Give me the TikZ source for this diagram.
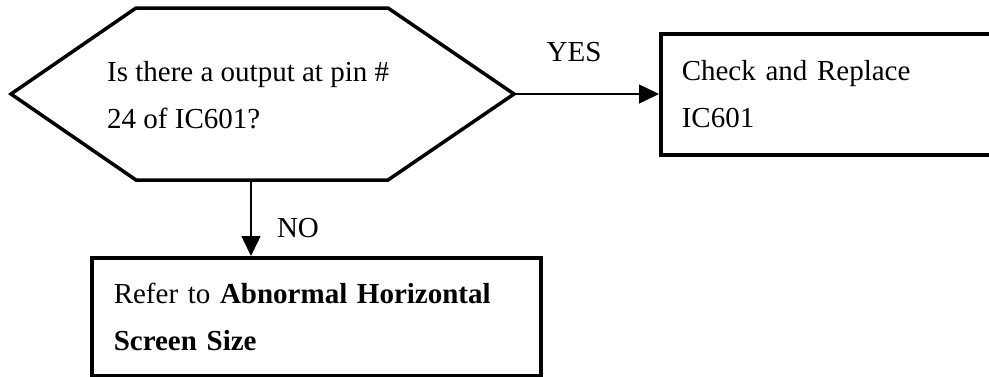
\documentclass[tikz,border=0pt]{standalone}
\usepackage{fontspec}
\setmainfont{Liberation Serif}
\usepackage{tikz}
\usetikzlibrary{arrows.meta}
\usetikzlibrary{positioning}

\begin{document}
\begin{tikzpicture}[x=1pt,y=-1pt,every node/.style={font=\fontsize{29}{47}\selectfont},
  outline/.style={line width=3.5pt,line join=miter},
  stepbox/.style={draw,outline,anchor=north west,align=left,inner xsep=21pt,inner ysep=0pt},
  flow/.style={line width=1.5pt,-{Triangle[length=20pt,width=19pt]}}]
  \useasboundingbox (0,0) rectangle (989,376);
  \clip (0,0) rectangle (989,376);
  %question
  \draw[outline] (11,94) -- (136,8) -- (388,8) -- (514,94) coordinate (qright)
    -- (388,180) -- (251,180) coordinate (qbottom) -- (136,180) -- cycle;
  \node[anchor=west,align=left,inner sep=0pt] (question) at (107,95) {Is there a output at pin \#\\24 of IC601?};
  %yes branch
  \node[stepbox,text width=330pt,minimum height=121pt] (replace) at (659,32) {Check and Replace\\IC601};
  \draw[flow] (qright) -- (qright -| replace.west);
  \node (yes) at (574,52) {YES};
  %no branch
  \node[stepbox,text width=405pt,minimum width=449pt,minimum height=118pt] (refer) at (90,256) {Refer to \textbf{Abnormal Horizontal}\\\textbf{Screen Size}};
  \draw[flow] (qbottom) -- (qbottom |- refer.north);
  \node (no) at (298,228) {NO};
\end{tikzpicture}
\end{document}
